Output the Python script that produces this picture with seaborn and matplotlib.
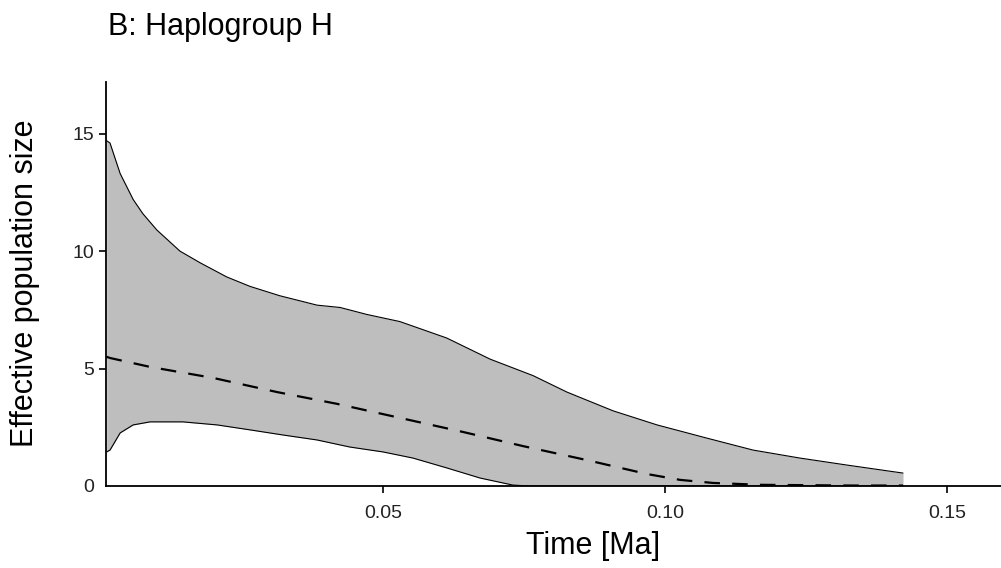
import numpy as np
import pandas as pd
import matplotlib
matplotlib.use("Agg")
import matplotlib.pyplot as plt
import seaborn as sns

# Data (time in Ma, effective population size)
upper_t = [0.0010, 0.0016, 0.0034, 0.0057, 0.0074, 0.0099, 0.0140, 0.0176, 0.0223, 0.0264,
           0.0317, 0.0383, 0.0424, 0.0472, 0.0530, 0.0613, 0.0690, 0.0766, 0.0826, 0.0908,
           0.0986, 0.1074, 0.1156, 0.1239, 0.1323, 0.1422]
upper_v = [14.7, 14.6, 13.3, 12.2, 11.6, 10.9, 10.0, 9.5, 8.9, 8.5,
           8.1, 7.7, 7.6, 7.3, 7.0, 6.3, 5.4, 4.7, 4.0, 3.2,
           2.6, 2.04, 1.53, 1.19, 0.89, 0.55]

lower_t = [0.0010, 0.0016, 0.0034, 0.0057, 0.0087, 0.0145, 0.0206, 0.0264, 0.0323, 0.0383,
           0.0441, 0.0500, 0.0553, 0.0613, 0.0672, 0.0730, 0.0760, 0.1000, 0.1200, 0.1422]
lower_v = [1.45, 1.53, 2.26, 2.6, 2.73, 2.73, 2.6, 2.39, 2.17, 1.96,
           1.66, 1.45, 1.19, 0.77, 0.34, 0.04, 0.0, 0.0, 0.0, 0.0]

median_t = [0.0010, 0.0016, 0.0087, 0.0199, 0.0312, 0.0418, 0.0530, 0.0642, 0.0748, 0.0862,
            0.0968, 0.1027, 0.1085, 0.1170, 0.1330, 0.1422]
median_v = [5.5, 5.45, 5.07, 4.6, 4.0, 3.5, 2.9, 2.3, 1.7, 1.1,
            0.51, 0.26, 0.13, 0.05, 0.02, 0.02]

x_ticks = [0.05, 0.10, 0.15]
x_tick_labels = ["0.05", "0.10", "0.15"]
y_ticks = [0, 5, 10, 15]
y_tick_labels = ["0", "5", "10", "15"]

title = "B: Haplogroup H"
xlabel = "Time [Ma]"
ylabel = "Effective population size"

sns.set_style("ticks")
plt.rcParams['font.family'] = ['Liberation Sans', 'DejaVu Sans']

fig = plt.figure(figsize=(10.01, 5.68), dpi=100)
ax = fig.add_axes([106 / 1001, (568 - 486) / 568, 1 - 106 / 1001, (486 - 82) / 568])

# band: interpolate both bounds on a common grid
grid = np.array(sorted(set(upper_t) | set(lower_t)))
up_i = np.interp(grid, upper_t, upper_v)
lo_i = np.interp(grid, lower_t, lower_v)
ax.fill_between(grid, lo_i, up_i, color="#BEBEBE", linewidth=0, zorder=1)

df_up = pd.DataFrame({"t": upper_t, "v": upper_v})
df_lo = pd.DataFrame({"t": lower_t, "v": lower_v})
df_md = pd.DataFrame({"t": median_t, "v": median_v})
sns.lineplot(data=df_up, x="t", y="v", ax=ax, color="black", linewidth=0.8, sort=False, zorder=2)
sns.lineplot(data=df_lo, x="t", y="v", ax=ax, color="black", linewidth=0.8, sort=False, zorder=2)
sns.lineplot(data=df_md, x="t", y="v", ax=ax, color="black", linewidth=1.6, sort=False, zorder=3,
             dashes=False)
ax.lines[-1].set_dashes((7, 5.5))

ax.set_xlim((106 - 101) / 5640, (1001 - 101) / 5640)
ax.set_ylim(0, 17.2)
ax.set_xticks(x_ticks)
ax.set_xticklabels(x_tick_labels)
ax.set_yticks(y_ticks)
ax.set_yticklabels(y_tick_labels)
ax.tick_params(axis="both", labelsize=14, length=5, width=1.2, color="black", labelcolor="#222222")
ax.tick_params(axis="x", pad=9)
ax.yaxis.get_major_ticks()[0].tick1line.set_visible(False)

sns.despine(ax=ax)
for s in ["left", "bottom"]:
    ax.spines[s].set_linewidth(1.3)
    ax.spines[s].set_color("black")

ax.set_xlabel("")
ax.set_ylabel("")
fig.text(593 / 1001, 1 - 546 / 568, xlabel, ha="center", va="center", fontsize=22, color="black")
fig.text(25 / 1001, 1 - 283 / 568, ylabel, ha="center", va="center", rotation=90,
         fontsize=22, color="black")
fig.text(108 / 1001, 1 - 27 / 568, title, ha="left", va="center", fontsize=22, color="black")

fig.savefig("out.png", dpi=100)
